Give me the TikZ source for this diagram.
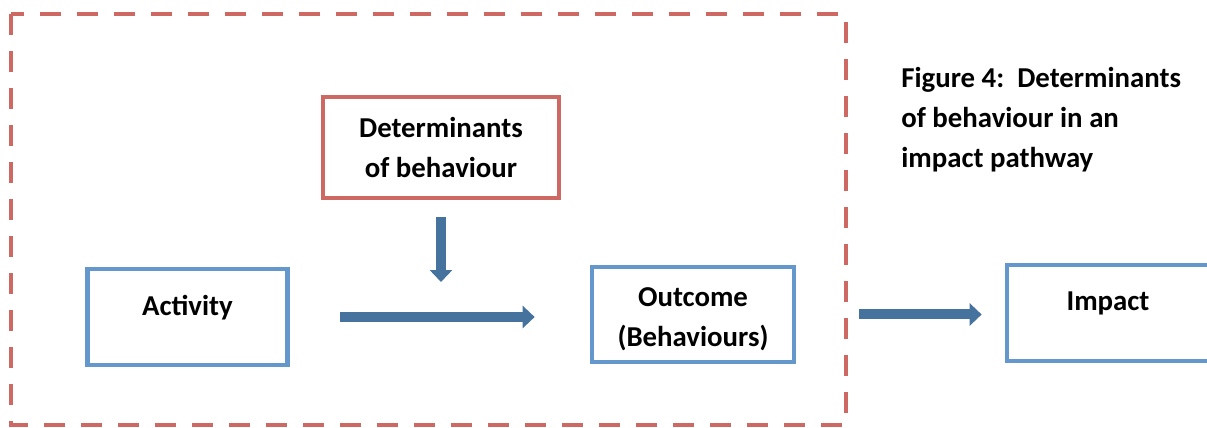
\documentclass[tikz,border=0pt]{standalone}
\usepackage{fontspec}
\setmainfont{Carlito}
\usepackage{tikz}
\usetikzlibrary{arrows.meta,positioning,calc}
\usepackage{xcolor}
\definecolor{boxblue}{RGB}{100,151,204}
\definecolor{flowblue}{RGB}{70,114,158}
\definecolor{framered}{RGB}{206,104,98}

\begin{document}
\begin{tikzpicture}[
    x=0.02cm,
    y=-0.02cm,
    every node/.style={
        font=\fontsize{16.4}{22.7}\selectfont\bfseries,
        inner sep=0pt
    },
    bluebox/.style={
        draw=boxblue,
        line width=0.095cm,
        minimum width=4.04cm,
        minimum height=1.92cm,
        align=center
    },
    redbox/.style={
        draw=framered,
        line width=0.095cm,
        minimum width=4.72cm,
        minimum height=2.02cm,
        align=center
    },
    flow/.style={
        draw=flowblue,
        line width=0.2cm,
        -{Triangle[width=0.44cm,length=0.24cm]}
    },
    frame/.style={
        draw=framered,
        line width=0.09cm,
        dash pattern=on 0.42cm off 0.32cm
    }
]
\useasboundingbox (0,0) rectangle (1207,428);

% ---------------- Dashed frame ----------------
\draw[frame] (11,14) rectangle (846,425);

% ---------------- Boxes ----------------
\node[bluebox, minimum width=4.0cm] (act) at (187.5,317) {};
\node (acttxt) at ([yshift=0.19cm]act.center) {Activity};

\node[redbox] (det) at (441,147.5) {Determinants\\of behaviour};

\node[bluebox, minimum height=1.9cm] (out) at (693,314.5) {};
\node[align=center] (outtxt) at ([yshift=-0.1cm]out.center) {Outcome\\(Behaviours)};

\node[bluebox] (imp) at (1108,313) {};
\node (imptxt) at ([yshift=0.2cm]imp.center) {Impact};

% ---------------- Caption ----------------
\node[anchor=north west, align=left] (cap) at (901,67)
    {Figure 4:\ \ Determinants\\of behaviour in an\\impact pathway};

% ---------------- Arrows ----------------
\draw[flow, shorten <=1.01cm, shorten >=1.1cm] (act.east) -- (act.east -| out.west);
\draw[flow, shorten <=0.34cm, shorten >=0.7cm] (det.south) -- (det.south |- act.east);
\draw[flow, shorten <=1.26cm, shorten >=0.46cm] (out.east) -- (out.east -| imp.west);

\end{tikzpicture}
\end{document}
